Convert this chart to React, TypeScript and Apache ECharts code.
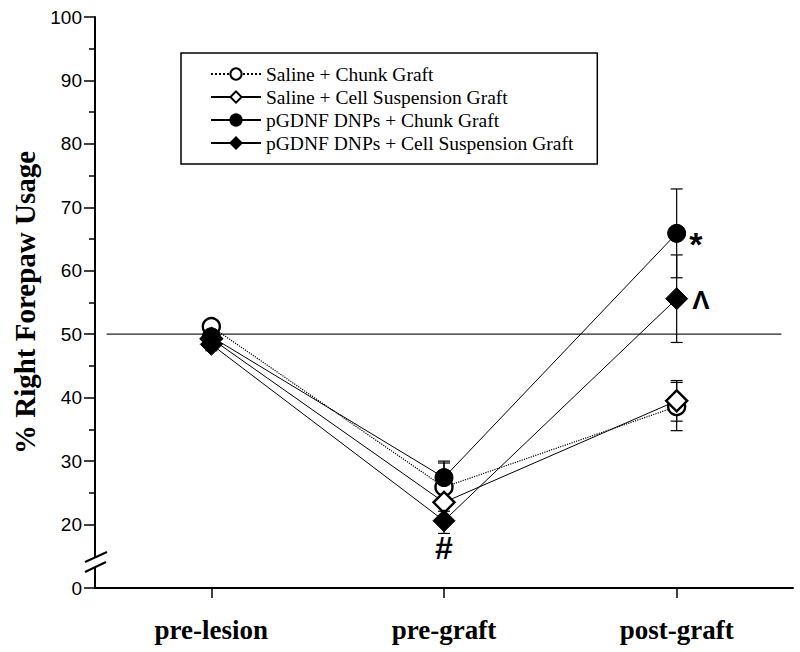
import React, { useEffect, useRef } from "react";
import * as echarts from "echarts";

// ---- data ----
const categories = ["pre-lesion", "pre-graft", "post-graft"];
const seriesNames = [
  "Saline + Chunk Graft",
  "Saline + Cell Suspension Graft",
  "pGDNF DNPs + Chunk Graft",
  "pGDNF DNPs + Cell Suspension Graft",
];
const salineChunk = [51.2, 25.9, 38.6];
const salineChunkErr = [1.0, 3.8, 3.8];
const salineCell = [49.3, 23.5, 39.5];
const salineCellErr = [1.0, 2.5, 3.2];
const gdnfChunk = [49.6, 27.4, 65.9];
const gdnfChunkErr = [1.0, 2.6, 7.0];
const gdnfCell = [48.4, 20.6, 55.6];
const gdnfCellErr = [1.0, 2.0, 6.9];
const yTickLabels = ["0", "20", "30", "40", "50", "60", "70", "80", "90", "100"];
const referenceValue = 50;
const BREAK_OFFSET = 10; // values >= 20 are shifted down by 10 (0–20 compressed)

const SERIF = "'Liberation Serif', 'Times New Roman', serif";
const SANS = "'Liberation Sans', Arial, sans-serif";

const tv = (v: number) => v - BREAK_OFFSET;

export default function App() {
  const ref = useRef<HTMLDivElement>(null);
  useEffect(() => {
    if (!ref.current) return;
    const chart = echarts.init(ref.current, undefined, { renderer: "svg" });

    const values = [salineChunk, salineCell, gdnfChunk, gdnfCell];
    const errs = [salineChunkErr, salineCellErr, gdnfChunkErr, gdnfCellErr];
    const styles = [
      { symbol: "circle", size: 17, fill: "#fff", dotted: true },
      { symbol: "diamond", size: 21, fill: "#fff", dotted: false },
      { symbol: "circle", size: 18, fill: "#000", dotted: false },
      { symbol: "diamond", size: 22, fill: "#000", dotted: false },
    ];

    const errData: number[][] = [];
    values.forEach((arr, si) => {
      arr.forEach((v, i) => {
        errData.push([i + 1, tv(v - errs[si][i]), tv(v + errs[si][i])]);
      });
    });

    const annotations: Record<string, any> = {
      "2-2": { show: true, formatter: "*", position: "right", distance: 3, offset: [0, 11], fontSize: 34, fontWeight: "bold", fontFamily: SANS, color: "#000" },
      "3-2": { show: true, formatter: "Λ", position: "right", distance: 4, offset: [0, 1], fontSize: 26, fontWeight: "bold", fontFamily: SANS, color: "#000" },
      "3-1": { show: true, formatter: "#", position: "bottom", distance: 0, fontSize: 32, fontWeight: "bold", fontFamily: SANS, color: "#000" },
    };

    const dataSeries = values.map((arr, si) => ({
      name: seriesNames[si],
      type: "line",
      xAxisIndex: 1,
      symbol: styles[si].symbol,
      symbolSize: styles[si].size,
      z: 3,
      data: arr.map((v, i) => {
        const lab = annotations[`${si}-${i}`];
        return lab ? { value: [i + 1, tv(v)], label: lab } : [i + 1, tv(v)];
      }),
      lineStyle: { color: "#000", width: styles[si].dotted ? 1.2 : 1, type: styles[si].dotted ? "dotted" : "solid" },
      itemStyle: { color: styles[si].fill, borderColor: "#000", borderWidth: styles[si].fill === "#fff" ? 2.4 : 1, opacity: 1 },
      emphasis: { disabled: true },
    }));

    chart.setOption({
      animation: false,
      backgroundColor: "#fff",
      grid: { left: 95, right: 7, top: 17, bottom: 64, containLabel: false },
      legend: {
        data: seriesNames,
        orient: "vertical",
        left: 181,
        top: 53,
        padding: [11, 24, 11, 29],
        itemGap: 3,
        itemWidth: 50,
        itemHeight: 14,
        borderColor: "#000",
        borderWidth: 1.5,
        selectedMode: false,
        textStyle: { fontFamily: SERIF, fontSize: 19.5, color: "#000", lineHeight: 20 },
      },
      xAxis: [
        {
          type: "category",
          data: categories,
          boundaryGap: true,
          axisLine: { lineStyle: { color: "#000", width: 2 } },
          axisTick: { show: true, alignWithLabel: true, length: 10, lineStyle: { color: "#000", width: 1.5 } },
          axisLabel: { fontFamily: SERIF, fontWeight: "bold", fontSize: 27, color: "#000", margin: 28 },
          splitLine: { show: false },
        },
        { type: "value", min: 0.5, max: 3.5, show: false },
      ],
      yAxis: {
        type: "value",
        min: 0,
        max: 90,
        interval: 10,
        name: "% Right Forepaw Usage",
        nameLocation: "middle",
        nameRotate: 90,
        nameGap: 48,
        nameTextStyle: { fontFamily: SERIF, fontWeight: "bold", fontSize: 29, color: "#000" },
        axisLine: { show: true, lineStyle: { color: "#000", width: 2 } },
        axisTick: { show: true, length: 11, lineStyle: { color: "#000", width: 1.5 } },
        minorTick: { show: true, splitNumber: 2, length: 6, lineStyle: { color: "#000", width: 1.5 } },
        axisLabel: {
          fontFamily: SANS,
          fontSize: 19,
          color: "#000",
          margin: 13,
          formatter: (v: number) => yTickLabels[Math.round(v / 10)] ?? "",
        },
        splitLine: { show: false },
      },
      series: [
        {
          name: "ref",
          type: "line",
          xAxisIndex: 1,
          symbol: "none",
          z: 1,
          data: [[0.55, tv(referenceValue)], [3.45, tv(referenceValue)]],
          lineStyle: { color: "#222", width: 1.2 },
          emphasis: { disabled: true },
        },
        {
          name: "err",
          type: "custom",
          xAxisIndex: 1,
          z: 2,
          encode: { x: 0, y: [1, 2] },
          data: errData,
          renderItem: (params: any, api: any) => {
            const x = api.value(0);
            const lo = api.coord([x, api.value(1)]);
            const hi = api.coord([x, api.value(2)]);
            const w = 6;
            const st = { stroke: "#000", lineWidth: 1.2 };
            return {
              type: "group",
              children: [
                { type: "line", shape: { x1: lo[0], y1: lo[1], x2: hi[0], y2: hi[1] }, style: st },
                { type: "line", shape: { x1: hi[0] - w, y1: hi[1], x2: hi[0] + w, y2: hi[1] }, style: st },
                { type: "line", shape: { x1: lo[0] - w, y1: lo[1], x2: lo[0] + w, y2: lo[1] }, style: st },
              ],
            };
          },
        },
        ...dataSeries,
      ],
      graphic: [
        { type: "polygon", shape: { points: [[80, 565], [112, 550], [112, 560], [80, 575]] }, style: { fill: "#fff" }, z: 100 },
        { type: "rect", shape: { x: 82, y: 552, width: 12, height: 8 }, style: { fill: "#fff" }, z: 100 },
        { type: "line", shape: { x1: 85, y1: 562, x2: 107, y2: 552 }, style: { stroke: "#000", lineWidth: 2 }, z: 101 },
        { type: "line", shape: { x1: 85, y1: 572, x2: 106, y2: 562 }, style: { stroke: "#000", lineWidth: 2 }, z: 101 },
      ],
    });
    return () => chart.dispose();
  }, []);
  return <div ref={ref} style={{ width: 800, height: 652, position: "absolute", left: 0, top: 0 }} />;
}
